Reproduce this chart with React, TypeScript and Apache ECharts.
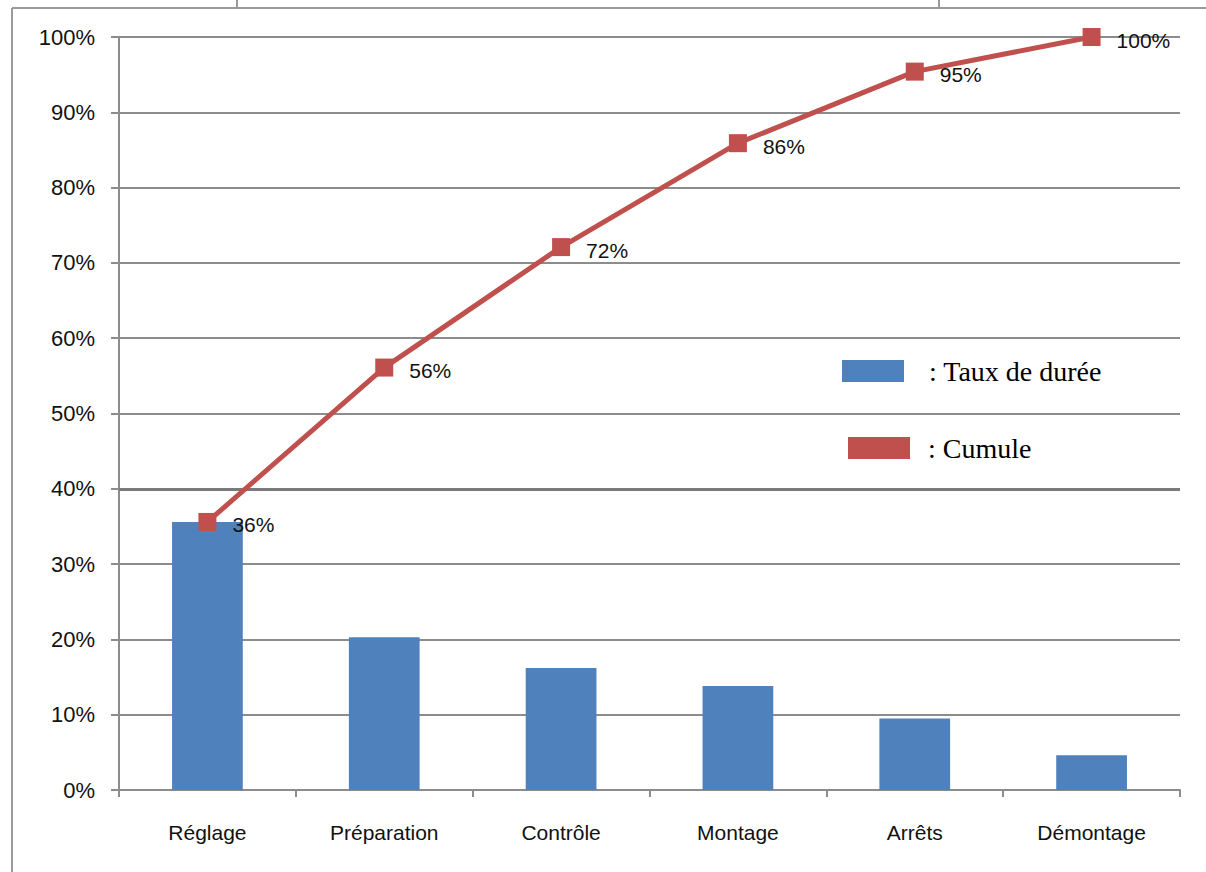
import React, { useEffect, useRef } from "react";
import * as echarts from "echarts";

const categories = ["Réglage", "Préparation", "Contrôle", "Montage", "Arrêts", "Démontage"];
const tauxDeDuree = [35.6, 20.3, 16.2, 13.8, 9.5, 4.6];
const cumule = [35.6, 56.1, 72.1, 85.9, 95.4, 100];
const yTicks = { min: 0, max: 100, interval: 10 };

const GRID = "#8c8c8c";
const BLUE = "#4F81BD";
const RED = "#C0504D";
const SANS = "'Liberation Sans', Arial, sans-serif";
const SERIF = "'Liberation Serif', 'Times New Roman', serif";

export default function App() {
  const ref = useRef<HTMLDivElement>(null);
  useEffect(() => {
    if (!ref.current) return;
    const chart = echarts.init(ref.current, null, { renderer: "svg" });
    chart.setOption({
      animation: false,
      backgroundColor: "#ffffff",
      grid: { left: 119, right: 26, top: 37, bottom: 82 },
      legend: [
        {
          data: ["Taux de durée"],
          left: 842,
          top: 357,
          padding: 0,
          icon: "rect",
          itemWidth: 62,
          itemHeight: 22,
          formatter: ": {name}",
          textStyle: { fontFamily: SERIF, fontSize: 28, color: "#000", lineHeight: 28, padding: [0, 0, 0, 20] },
        },
        {
          data: ["Cumule"],
          left: 848,
          top: 434,
          padding: 0,
          icon: "rect",
          itemWidth: 62,
          itemHeight: 22,
          formatter: ": {name}",
          textStyle: { fontFamily: SERIF, fontSize: 28, color: "#000", lineHeight: 28, padding: [0, 0, 0, 13] },
        },
      ],
      xAxis: {
        type: "category",
        data: categories,
        boundaryGap: true,
        axisLine: { show: true, lineStyle: { color: GRID, width: 2 } },
        axisTick: { show: true, length: 7, lineStyle: { color: GRID, width: 2 } },
        axisLabel: { fontFamily: SANS, fontSize: 21, color: "#111", margin: 32 },
      },
      yAxis: {
        type: "value",
        min: yTicks.min,
        max: yTicks.max,
        interval: yTicks.interval,
        axisLine: { show: true, lineStyle: { color: GRID, width: 2 } },
        axisTick: { show: true, length: 8, lineStyle: { color: GRID, width: 2 } },
        splitLine: { show: true, lineStyle: { color: GRID, width: 2 } },
        axisLabel: { fontFamily: SANS, fontSize: 22, color: "#111", margin: 24, formatter: "{value}%" },
      },
      series: [
        {
          name: "Taux de durée",
          type: "bar",
          data: tauxDeDuree,
          barWidth: "40%",
          itemStyle: { color: BLUE },
          z: 2,
          markLine: {
            silent: true,
            symbol: "none",
            label: { show: false },
            lineStyle: { color: "#7a7a7a", width: 3, type: "solid" },
            data: [{ yAxis: 40 }],
            z: 1,
          },
        },
        {
          name: "Cumule",
          type: "line",
          data: cumule,
          symbol: "rect",
          symbolSize: 18,
          lineStyle: { color: RED, width: 5 },
          itemStyle: { color: RED },
          z: 5,
          label: {
            show: true,
            position: "right",
            distance: 16,
            offset: [0, 3],
            fontFamily: SANS,
            fontSize: 21,
            color: "#111",
            formatter: (p: any) => Math.round(p.value) + "%",
          },
        },
      ],
      graphic: [
        { type: "line", shape: { x1: 12, y1: 8, x2: 12, y2: 872 }, style: { stroke: "#9a9a9a", lineWidth: 2 } },
        { type: "line", shape: { x1: 12, y1: 8, x2: 1206, y2: 8 }, style: { stroke: "#9a9a9a", lineWidth: 2 } },
        { type: "line", shape: { x1: 237, y1: 0, x2: 237, y2: 8 }, style: { stroke: "#9a9a9a", lineWidth: 2 } },
        { type: "line", shape: { x1: 939, y1: 0, x2: 939, y2: 8 }, style: { stroke: "#9a9a9a", lineWidth: 2 } },
      ],
    });
    return () => chart.dispose();
  }, []);
  return (
    <div
      ref={ref}
      style={{ position: "fixed", left: 0, top: 0, width: 1206, height: 872, background: "#fff" }}
    />
  );
}
